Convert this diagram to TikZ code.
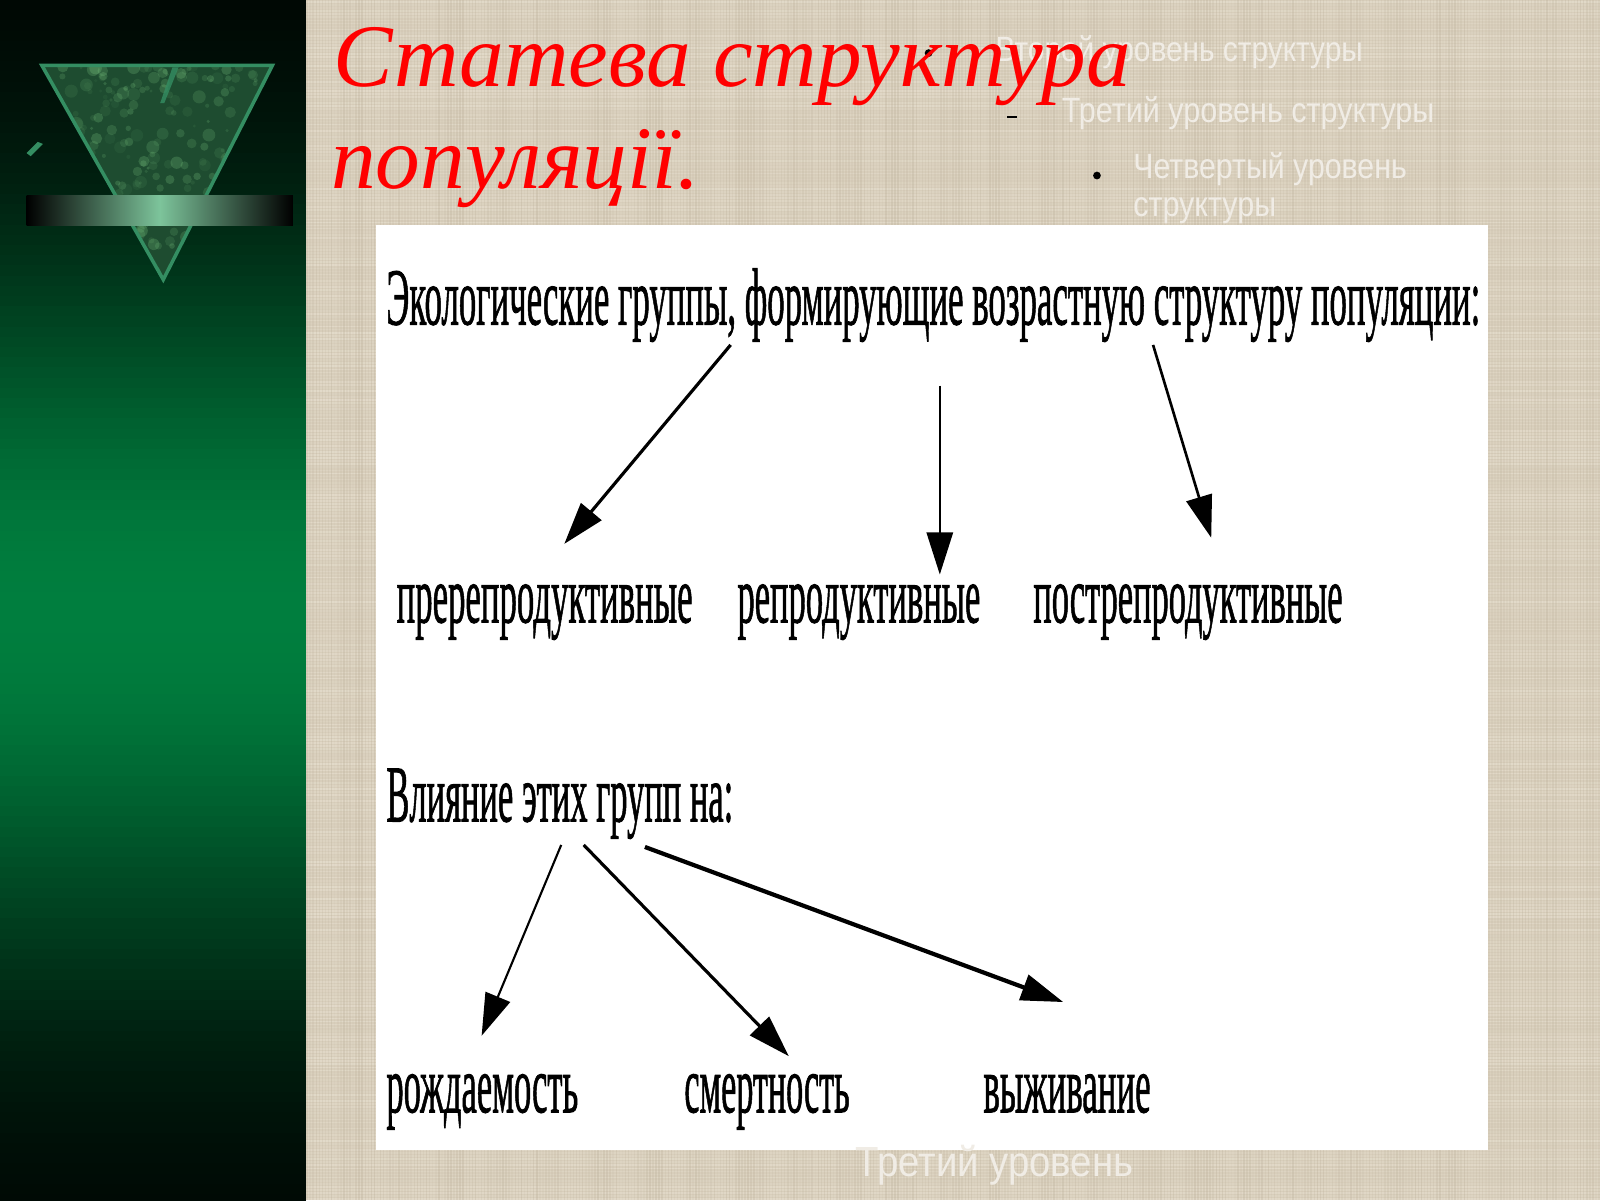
\documentclass[tikz,border=0pt]{standalone}
\usepackage{fontspec}
\setmainfont{Liberation Serif}
\newfontfamily\diagf[FakeBold=1.3]{Liberation Serif}
\newfontfamily\sansf{Liberation Sans}
\usetikzlibrary{arrows.meta}
\definecolor{beige}{RGB}{216,206,187}
\definecolor{linenlight}{RGB}{240,234,220}
\definecolor{linendark}{RGB}{176,163,140}
\definecolor{faint}{RGB}{240,236,229}
\definecolor{gmid}{RGB}{0,126,62}
\definecolor{trifill}{RGB}{30,76,48}
\definecolor{triedge}{RGB}{52,142,98}
\definecolor{barmid}{RGB}{125,196,155}
\newlength\pxu
\setlength\pxu{0.010204cm}
\newcommand{\dtext}[2]{\resizebox{#1\pxu}{\height}{\diagf\fontsize{23}{27}\selectfont #2}}
\newcommand{\ftext}[2]{\resizebox{#1\pxu}{\height}{\sansf\fontsize{10}{12}\selectfont #2}}
\tikzset{
  lbl/.style={anchor=base west, inner sep=0pt},
  flbl/.style={anchor=base west, inner sep=0pt, text=faint},
  arr/.style={-{Triangle[length=12pt,width=7.5pt]}, black},
}
\begin{document}
\begin{tikzpicture}[x=0.010204cm,y=-0.010204cm]
\useasboundingbox (0,0) rectangle (1568,1176);
% beige background with linen texture
\fill[beige] (0,0) rectangle (1568,1176);
\pgfmathsetseed{7}
\foreach \yy in {2,5,...,1176} {
  \draw[linenlight, opacity={0.1+0.35*rnd}, line width=0.5pt] (300,\yy) -- (1568,\yy);
}
\foreach \xx in {301,304,...,1568} {
  \draw[linendark, opacity={0.05+0.2*rnd}, line width=0.45pt] (\xx,0) -- (\xx,1176);
}
% left green panel (vertical gradient)
\foreach \i in {0,...,117} {
  \pgfmathsetmacro\p{100*exp(-((\i*10+5-600)/360)^2)}
  \fill[gmid!\p!black] (0,\i*10) rectangle (300,\i*10+10.6);
}
% triangle emblem
\begin{scope}
  \clip (41,64) -- (267,64) -- (160,274) -- cycle;
  \fill[trifill] (0,0) rectangle (300,300);
  \foreach \i in {1,...,300} {
    \fill[green!35!white, opacity={0.04+0.14*rnd}] ({41+226*rnd},{64+210*rnd}) circle ({1.5+5*rnd});
  }
  \fill[triedge, opacity=0.8] (157,101) -- (169,66) -- (175,66) -- (161,101) -- cycle;
\end{scope}
\draw[triedge, line width=1pt] (41,64) -- (267,64) -- (160,274) -- cycle;
\fill[triedge] (26,150) -- (37,139) -- (42,141) -- (30,153) -- cycle;
\shade[left color=black, right color=black, middle color=barmid] (26,192) rectangle (287,221);
% faint placeholder text (behind the title)
\fill[black] (910,52) circle (3.8);
\node[flbl] (f1) at (975,60) {\ftext{360}{Второй уровень  структуры}};
\draw[black, line width=0.6pt] (987,115) -- (997,115);
\node[flbl] (f2) at (1040,120) {\ftext{365}{Третий уровень  структуры}};
\fill[black] (1075,172) circle (3.8);
\node[flbl] (f3) at (1110,175) {\ftext{268}{Четвертый  уровень}};
\node[flbl] (f4) at (1110,212) {\ftext{140}{структуры}};
% title
\node[lbl, text=red] (title1) at (326,85) {\fontsize{25.4}{30}\selectfont\itshape Статева структура};
\node[lbl, text=red] (title2) at (324,185) {\fontsize{25.4}{30}\selectfont\itshape популяції.};
% white diagram panel
\fill[white] (368,220) rectangle (1458,1127);
\node[flbl] (f5) at (838,1153) {\resizebox{272\pxu}{\height}{\sansf\fontsize{12}{14}\selectfont Третий уровень}};
% diagram texts
\node[lbl] (head1) at (378,318) {\dtext{1072}{Экологические группы, формирующие возрастную структуру популяции:}};
\node[lbl] (pre) at (388,610) {\dtext{290}{пререпродуктивные}};
\node[lbl] (rep) at (722,610) {\dtext{238}{репродуктивные}};
\node[lbl] (post) at (1012,610) {\dtext{303}{пострепродуктивные}};
\node[lbl] (head2) at (378,805) {\dtext{340}{Влияние этих групп на:}};
\node[lbl] (birth) at (378,1090) {\dtext{188}{рождаемость}};
\node[lbl] (death) at (670,1090) {\dtext{162}{смертность}};
\node[lbl] (surv) at (963,1090) {\dtext{164}{выживание}};
% connector endpoints
\coordinate (a1s) at (716,338); \coordinate (a1e) at (553,533);
\coordinate (a2s) at (921,378); \coordinate (a2e) at (921,563);
\coordinate (a3s) at (1130,338); \coordinate (a3e) at (1187,527);
\coordinate (b1s) at (550,828); \coordinate (b1e) at (472,1015);
\coordinate (b2s) at (572,828); \coordinate (b2e) at (773,1035);
\coordinate (b3s) at (632,830); \coordinate (b3e) at (1042,982);
\draw[arr, line width=0.9pt] (a1s) -- (a1e);
\draw[arr, line width=0.6pt] (a2s) -- (a2e);
\draw[arr, line width=0.75pt] (a3s) -- (a3e);
\draw[arr, line width=0.6pt] (b1s) -- (b1e);
\draw[arr, line width=0.9pt] (b2s) -- (b2e);
\draw[arr, line width=1.2pt] (b3s) -- (b3e);
\end{tikzpicture}
\end{document}
